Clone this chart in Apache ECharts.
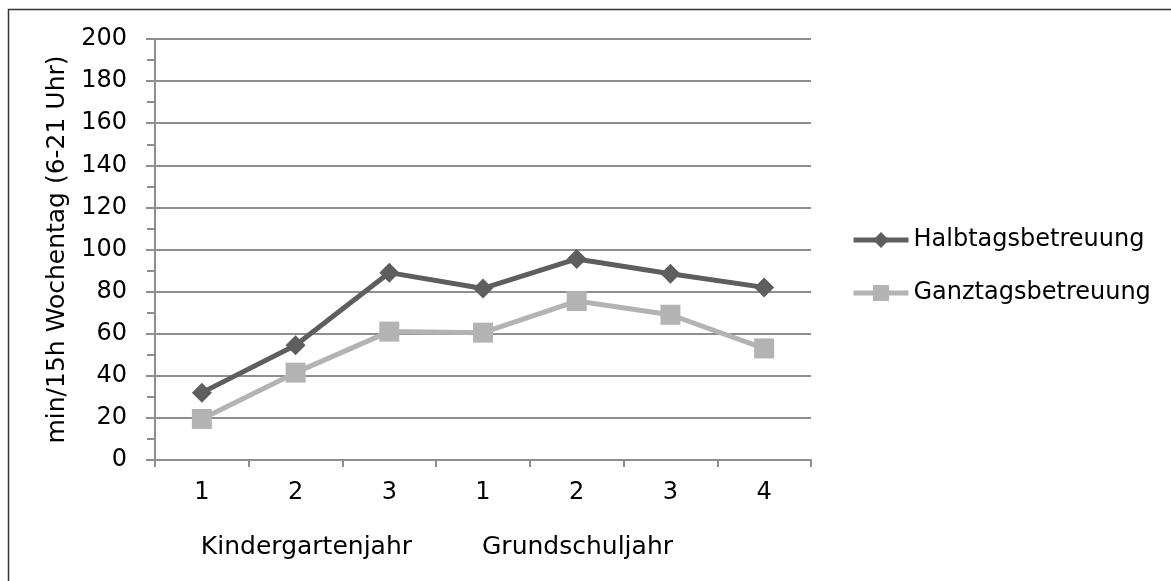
<!DOCTYPE html>
<html>
<head>
<meta charset="utf-8">
<script src="https://cdn.jsdelivr.net/npm/echarts@6/dist/echarts.min.js"></script>
<style>
  html, body { margin: 0; padding: 0; background: #ffffff; }
  #chart { width: 1171px; height: 581px; }
</style>
</head>
<body>
<div id="chart"></div>
<script>
// School year within each stage
const categories = ['1', '2', '3', '1', '2', '3', '4'];
// Stage labels and the category index where each stage begins
const groupLabels = ['Kindergartenjahr', 'Grundschuljahr'];
const groupStart = [0, 3];

const seriesNames = ['Halbtagsbetreuung', 'Ganztagsbetreuung'];
const halbtags = [32, 54.5, 89, 81.5, 95.5, 88.5, 82];
const ganztags = [19.5, 41.5, 61, 60.5, 75.5, 69, 53];

const yTicks = [0, 20, 40, 60, 80, 100, 120, 140, 160, 180, 200];
const yTitle = 'min/15h Wochentag (6-21 Uhr)';

const FONT = 'DejaVu Sans';
const GRID_COLOR = '#8e8e8e';

const chart = echarts.init(document.getElementById('chart'), null, { renderer: 'canvas' });

const option = {
  backgroundColor: '#ffffff',
  animation: false,
  textStyle: { fontFamily: FONT, color: '#000000' },
  grid: { left: 155, right: 360, top: 39, bottom: 121, containLabel: false },
  legend: {
    orient: 'vertical',
    left: 846,
    top: 223,
    itemWidth: 55,
    itemHeight: 20,
    itemGap: 29,
    lineStyle: { width: 5 },
    textStyle: { fontFamily: FONT, fontSize: 24, color: '#000000' },
    data: seriesNames
  },
  xAxis: {
    type: 'category',
    data: categories,
    boundaryGap: true,
    axisLine: { show: true, lineStyle: { color: GRID_COLOR, width: 2 } },
    axisTick: { show: true, length: 7, alignWithLabel: false, lineStyle: { color: GRID_COLOR, width: 2 } },
    axisLabel: { margin: 21, fontFamily: FONT, fontSize: 24, color: '#000000' },
    splitLine: { show: false }
  },
  yAxis: {
    type: 'value',
    min: yTicks[0],
    max: yTicks[yTicks.length - 1],
    interval: yTicks[1] - yTicks[0],
    name: yTitle,
    nameLocation: 'middle',
    nameRotate: 90,
    nameGap: 83,
    nameTextStyle: { fontFamily: FONT, fontSize: 25, color: '#000000' },
    axisLine: { show: true, lineStyle: { color: GRID_COLOR, width: 2 } },
    axisTick: { show: true, length: 9, inside: false, lineStyle: { color: GRID_COLOR, width: 2 } },
    minorTick: { show: true, splitNumber: 2, length: 8, lineStyle: { color: GRID_COLOR, width: 2 } },
    axisLabel: { margin: 28, fontFamily: FONT, fontSize: 24, color: '#000000' },
    splitLine: { show: true, lineStyle: { color: GRID_COLOR, width: 2 } }
  },
  series: [
    {
      name: seriesNames[0],
      type: 'line',
      data: halbtags,
      symbol: 'diamond',
      symbolSize: 20,
      z: 3,
      lineStyle: { color: '#5e5e5e', width: 5 },
      itemStyle: { color: '#5e5e5e' }
    },
    {
      name: seriesNames[1],
      type: 'line',
      data: ganztags,
      symbol: 'rect',
      symbolSize: 20,
      z: 2,
      lineStyle: { color: '#b3b3b3', width: 5 },
      itemStyle: { color: '#b3b3b3' }
    }
  ]
};

chart.setOption(option);

// Stage names under the year numbers, starting at the first year of each stage,
// plus the frame lines along the left and top edges.
const graphics = groupLabels.map(function (label, i) {
  const x = chart.convertToPixel({ xAxisIndex: 0 }, groupStart[i]);
  return {
    type: 'text',
    x: x - 1,
    y: 547,
    style: {
      text: label,
      fontFamily: FONT,
      fontSize: 25,
      fill: '#000000',
      align: 'left',
      verticalAlign: 'middle'
    }
  };
});
graphics.push({
  type: 'polyline',
  shape: { points: [[8.5, 581], [8.5, 9.5], [1171, 9.5]] },
  style: { stroke: '#333333', lineWidth: 1.5, fill: null }
});
chart.setOption({ graphic: graphics });
</script>
</body>
</html>
